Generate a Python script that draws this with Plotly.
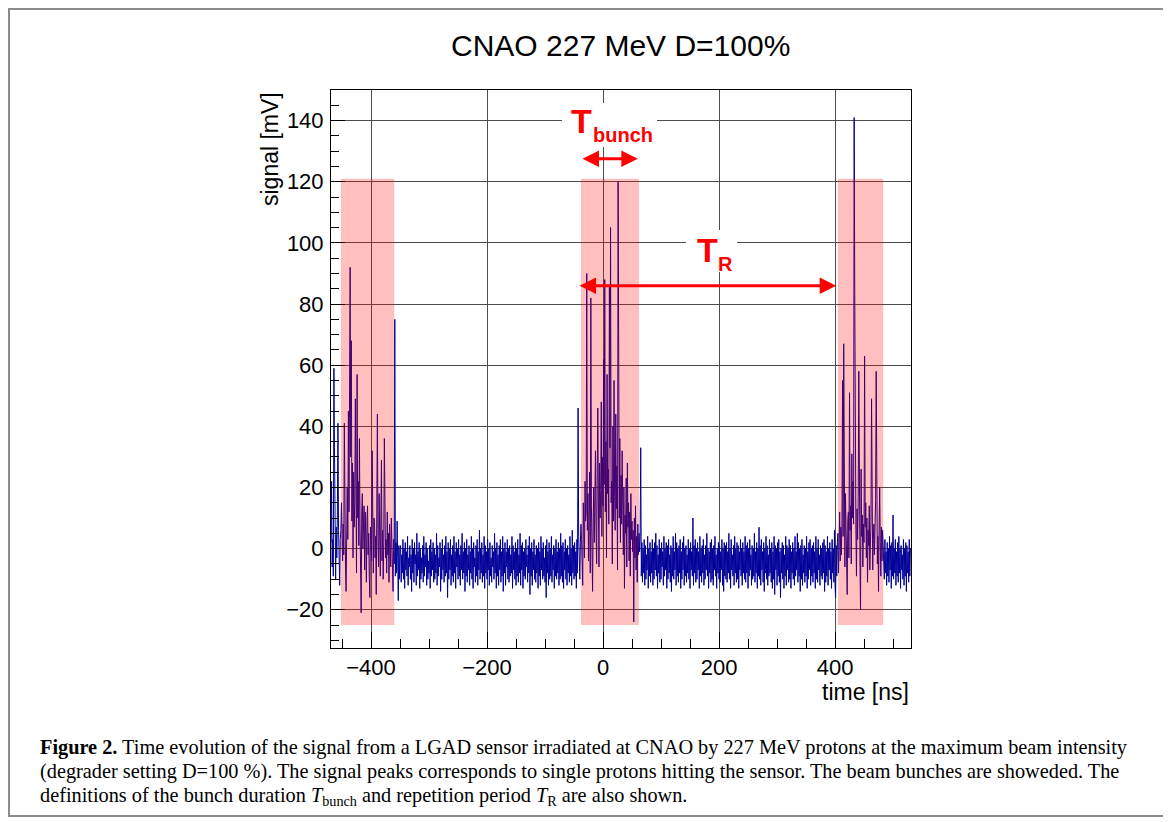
import numpy as np
import plotly.graph_objects as go

# ---------------- data (signal sampled every 1 ns from -469 ns) ----------------
t_start_ns = -469
t_step_ns = 1

edge_left_mv = [2, 22, -6, 3, -9, 59, 33, 4, -10, 7, -3, 12, 41, 6, -5, -12, 3]
bunch1_mv = [6, 15, 2, -4, 8, -2, 41, 5, -6, -14,
             11, 20, 3, 45, 12, 80, 92, 30, 68, 9,
             28, -3, 25, 7, 15, 49, 4, -8, 57, 10,
             22, 1, 36, 8, -5, -21, 12, 18, 0, 6,
             14, -7, 12, 3, -11, 9, 14, -2, 5, -9,
             -16, 7, 2, -4, 32, 6, -8, 10, 9, -3,
             4, -15, 8, 44, 2, -6, 18, 5, -9, 11,
             29, -4, 6, -10, 2, 36, 7, -3, 3, -8,
             12, -2, 5, -11, 8, 1, -6, 10, 4, -7,
             -14, 3, -5]
noise1_mv = [75, -9, 2, -8, 9, -3, -17, 1, -10, 0,
             1, -11, -2, -8, 3, -10, 0, -13, 2, -7,
             -1, -9, 4, -12, -3, -6, 1, -10, -2, -14,
             3, -8, 0, -11, 2, -5, -2, -12, 5, -9,
             -1, -7, 2, -13, 0, -10, -3, -8, 1, -11,
             4, -9, -2, -6, 2, -12, 0, -10, -4, -8,
             1, -13, 3, -9, -1, -7, 2, -11, 0, -10,
             -2, -8, 5, -12, 1, -9, -3, -6, 2, -14,
             0, -10, 3, -7, -2, -11, 1, -9, 4, -8,
             -1, -16, 2, -10, 0, -7, 3, -12, -2, -9,
             1, -11, 4, -8, -1, -13, 2, -6, 0, -10,
             3, -9, -2, -12, 1, -7, 5, -10, -1, -8,
             2, -14, 0, -9, 3, -11, -2, -7, 1, -12,
             -1, -8, 4, -10, 0, -13, 2, -6, -3, -11,
             1, -9, 3, -12, -1, -7, 6, -10, 0, -8,
             2, -11, -2, -9, 4, -13, 1, -8, -1, -10,
             3, -7, 0, -12, 2, -9, -3, -11, 1, -6,
             -1, -10, 5, -8, 0, -13, 2, -9, -2, -12,
             1, -7, 3, -11, -1, -9, 4, -14, 0, -8,
             2, -12, -1, -6, 3, -10, 0, -11, 1, -9,
             -2, -8, 4, -13, 1, -7, -1, -10, 2, -12,
             0, -9, 3, -11, -2, -8, 5, -12, 1, -7,
             2, -13, -1, -9, 0, -10, 3, -6, -2, -11,
             1, -8, 4, -15, 0, -9, 2, -12, -1, -7,
             3, -10, -2, -11, 1, -8, 0, -13, 2, -9,
             -1, -12, 4, -7, 0, -10, 2, -9, -3, -11,
             1, -16, 3, -8, -1, -12, 2, -10, 0, -9,
             4, -11, -2, -7, 1, -13, 0, -9, 3, -10,
             -1, -8, 2, -12, 0, -10, 5, -9, 1, -11,
             2, -13, -1, -7, 3, -10, 0, -12, 1, -8,
             -2, -11, 4, -9, 0, -12, 6, -8, 1, -10,
             2, -9, -1, -13, 3, -8, 46, 4, -6, -10,
             2]
bunch2_mv = [8, 3, -6, -12, 15, 4, -3, 22, 9, 12,
             90, 6, 18, -4, 11, 25, -8, 82, 14, 5,
             -14, 9, 20, 2, 13, 32, 7, -5, 24, 46,
             16, -6, 28, 10, 19, 48, 4, 30, 14, 62,
             21, 88, 12, 35, -3, 57, 18, 26, 8, 86,
             33, 105, 15, 22, -5, 40, 9, 55, 17, 6,
             44, 13, 27, -7, 120, 19, 10, 36, 2, 24,
             8, 32, 14, -2, 20, -13, 11, 5, 23, -6,
             28, 7, 15, -4, 12, -9, 18, 3, 9, -1,
             6, -24, 10, -3, 14, -7, 4, -11, 8, -2,
             5]
noise2_mv = [-1, 4, 33, -9, 2, -11, 0, -8, 3, -12,
             1, -10, -2, -7, 4, -13, 0, -9, 2, -11,
             -1, -8, 3, -12, 0, -10, 2, -7, 5, -9,
             1, -13, -2, -8, 3, -11, 0, -10, 2, -6,
             -1, -12, 4, -9, 0, -7, 2, -13, 1, -10,
             3, -8, -2, -11, 1, -14, 0, -9, 4, -10,
             -1, -7, 5, -12, 2, -9, 0, -11, 1, -8,
             3, -13, -1, -10, 2, -7, 4, -12, 0, -9,
             1, -11, -2, -8, 3, -10, 0, -13, 2, -7,
             -1, -9, 10, -12, 1, -8, 3, -11, 0, -10,
             2, -7, -1, -13, 4, -9, 0, -11, 1, -8,
             3, -12, -2, -10, 1, -7, 5, -9, 0, -13,
             -1, -8, 2, -11, 3, -10, 0, -12, 1, -7,
             4, -9, -2, -13, 0, -8, 2, -10, 1, -11,
             -1, -7, 3, -12, 0, -14, 2, -9, 1, -10,
             2, -11, -1, -8, 5, -10, 0, -13, 3, -7,
             -2, -9, 1, -12, 4, -8, 0, -11, 2, -10,
             1, -13, -1, -7, 3, -9, 0, -12, 2, -8,
             -1, -10, 4, -11, 1, -8, 2, -13, 0, -9,
             3, -7, -2, -12, 1, -10, 0, -9, 5, -11,
             -1, -8, 2, -13, 0, -9, 7, -10, 1, -12,
             3, -7, -1, -11, 2, -14, 0, -8, 4, -10,
             1, -12, -2, -9, 3, -8, 0, -11, 2, -13,
             -1, -10, 4, -15, 1, -7, 0, -12, 2, -9,
             3, -11, -1, -16, 0, -8, 2, -10, 1, -13,
             -2, -9, 4, -12, 1, -7, 0, -11, 3, -10,
             1, -13, -1, -8, 2, -10, 0, -12, 4, -9,
             -1, -7, 5, -11, 2, -9, 0, -14, 1, -10,
             3, -12, -2, -8, 1, -11, 0, -9, 4, -13,
             -1, -10, 2, -7, 3, -12, 0, -9, 1, -11,
             2, -8, -1, -13, 4, -10, 0, -11, 3, -7,
             -2, -12, 1, -9, 0, -10, 2, -8, 3, -14,
             1, -11, -1, -9, 4, -12, 0, -7, 2, -10,
             -1, -13, 3, -8, 0, -11, 6, -12, -16, 1,
             -9, 2]
bunch3_mv = [5, -8, 2, 12, -4, 7, -2, 9, 55, 4,
             67, 2, -6, 18, 3, -1, -15, 9, 12, -3,
             51, 6, 14, -5, 31, 10, 22, 8, 141, 84,
             24, 6, -9, 13, 3, 17, 58, 5, -4, -20,
             26, 4, 11, -6, 8, 2, 63, 7, 15, -3,
             10, -11, 6, 1, 14, -7, 5, 9, 49, 12,
             -7, 3, 8, -2, 5, 16, 58, 8, -5, 4,
             -14, 6, 20, 2, -9, 7, -4, 6, 1]
noise3_mv = [1, -10, 3, -8, -1, -12, 2, -9, 0, -11,
             4, -7, 1, -13, 2, -9, 11, -10, 0, -8,
             3, -12, -1, -9, 2, -11, 4, -8, 0, -13,
             1, -7, -2, -10, 3, -12, 0, -9, 2, -14,
             1, -8, -1, -11, 3, -9, 0]

signal_mv = (edge_left_mv + bunch1_mv + noise1_mv + bunch2_mv
             + noise2_mv + bunch3_mv + noise3_mv)
time_ns = t_start_ns + t_step_ns * np.arange(len(signal_mv))

bunch_start_ns = [-452, -38, 405]
bunch_end_ns = [-360, 62, 483]
bunch_low_mv = -25
bunch_high_mv = 121

tbunch_arrow = [-38, 60, 127.5]   # x0, x1, y
tr_arrow = [-43, 402, 86]         # x0, x1, y

x_tick_vals = [-400, -200, 0, 200, 400]
y_tick_vals = [-20, 0, 20, 40, 60, 80, 100, 120, 140]

# ---------------- layout helpers (page pixel -> paper) ----------------
OFF = 8                      # page body margin
W, H = 1171 - OFF, 822 - OFF
L, R, T, B = 331 - OFF, 260, 90 - OFF, 174
PW, PH = W - L - R, H - T - B


def px(x):
    return (x - OFF - L) / PW


def py(y):
    return (H - B - (y - OFF)) / PH


SANS = "Liberation Sans, Arial, sans-serif"
SERIF = "Liberation Serif, Times New Roman, serif"

fig = go.Figure()
fig.add_trace(go.Scatter(x=time_ns, y=signal_mv, mode="lines",
                         line=dict(color="#000099", width=1),
                         hoverinfo="skip", showlegend=False))

shapes = []
for x0, x1 in zip(bunch_start_ns, bunch_end_ns):
    shapes.append(dict(type="rect", xref="x", yref="y", x0=x0, x1=x1,
                       y0=bunch_low_mv, y1=bunch_high_mv, layer="above",
                       fillcolor="rgba(255,0,0,0.25)", line=dict(width=0)))
# white label boxes
shapes.append(dict(type="rect", xref="paper", yref="paper",
                   x0=px(562), x1=px(657), y0=py(147), y1=py(103),
                   fillcolor="white", line=dict(width=0), layer="above"))
shapes.append(dict(type="rect", xref="paper", yref="paper",
                   x0=px(686), x1=px(737), y0=py(272), y1=py(230),
                   fillcolor="white", line=dict(width=0), layer="above"))
# outer frame
shapes.append(dict(type="rect", xref="paper", yref="paper",
                   x0=px(9), x1=px(1164), y0=py(816), y1=py(9),
                   line=dict(color="#8c8c8c", width=2), layer="above"))

annotations = []
for x0, x1, yv in (tbunch_arrow, tr_arrow):
    annotations.append(dict(x=x1, y=yv, ax=x0, ay=yv, xref="x", yref="y",
                            axref="x", ayref="y", text="", showarrow=True,
                            arrowhead=2, arrowside="end+start", arrowsize=1.1,
                            arrowwidth=3, arrowcolor="#ff0000",
                            standoff=0, startstandoff=0))
annotations += [
    dict(x=px(581), y=py(121), xref="paper", yref="paper", text="<b>T</b>",
         showarrow=False, font=dict(family=SANS, size=34, color="#ff0000"),
         xanchor="center", yanchor="middle"),
    dict(x=px(591), y=py(135), xref="paper", yref="paper", text="<b>bunch</b>",
         showarrow=False, font=dict(family=SANS, size=20, color="#ff0000"),
         xanchor="left", yanchor="middle"),
    dict(x=px(707), y=py(250), xref="paper", yref="paper", text="<b>T</b>",
         showarrow=False, font=dict(family=SANS, size=34, color="#ff0000"),
         xanchor="center", yanchor="middle"),
    dict(x=px(716), y=py(264), xref="paper", yref="paper", text="<b>R</b>",
         showarrow=False, font=dict(family=SANS, size=20, color="#ff0000"),
         xanchor="left", yanchor="middle"),
    dict(x=px(620), y=py(45), xref="paper", yref="paper",
         text="CNAO 227 MeV D=100%", showarrow=False,
         font=dict(family=SANS, size=30, color="black"),
         xanchor="center", yanchor="middle"),
    dict(x=px(270), y=py(90), xref="paper", yref="paper", text="signal [mV]",
         textangle=-90, showarrow=False,
         font=dict(family=SANS, size=23, color="black"),
         xanchor="center", yanchor="top"),
    dict(x=px(911), y=py(692), xref="paper", yref="paper", text="time [ns]",
         showarrow=False, font=dict(family=SANS, size=23, color="black"),
         xanchor="right", yanchor="middle"),
]
caption_lines = [
    "<b>Figure 2.</b> Time evolution of the signal from a LGAD sensor irradiated at CNAO by 227 MeV protons at the maximum beam intensity",
    "(degrader setting D=100 %). The signal peaks corresponds to single protons hitting the sensor. The beam bunches are showeded. The",
    "definitions of the bunch duration <i>T</i><sub>bunch</sub> and repetition period <i>T</i><sub>R</sub> are also shown.",
]
for line, yc in zip(caption_lines, [747, 771, 796]):
    annotations.append(dict(x=px(38), y=py(yc), xref="paper", yref="paper",
                            text=line, showarrow=False,
                            font=dict(family=SERIF, size=20.3, color="black"),
                            xanchor="left", yanchor="middle"))

axis_common = dict(showline=True, mirror=True, linecolor="black", linewidth=1,
                   showgrid=True, gridcolor="#4d4d4d", gridwidth=1,
                   zeroline=False, ticks="inside", tickcolor="black",
                   tickfont=dict(family=SANS, size=22, color="black"),
                   automargin=False, fixedrange=True)

fig.update_layout(
    width=W, height=H,
    margin=dict(l=L, r=R, t=T, b=B, autoexpand=False),
    paper_bgcolor="white", plot_bgcolor="white",
    showlegend=False,
    xaxis=dict(range=[-469, 531], tickvals=x_tick_vals, ticklen=16,
               minor=dict(dtick=50, tick0=0, ticks="inside", ticklen=9,
                          tickcolor="black", showgrid=False),
               **axis_common),
    yaxis=dict(range=[-32.5, 150], tickvals=y_tick_vals, ticklen=14,
               ticklabelstandoff=2,
               minor=dict(dtick=5, tick0=0, ticks="inside", ticklen=8,
                          tickcolor="black", showgrid=False),
               **axis_common),
    shapes=shapes,
    annotations=annotations,
)

fig.write_html("out.html")
